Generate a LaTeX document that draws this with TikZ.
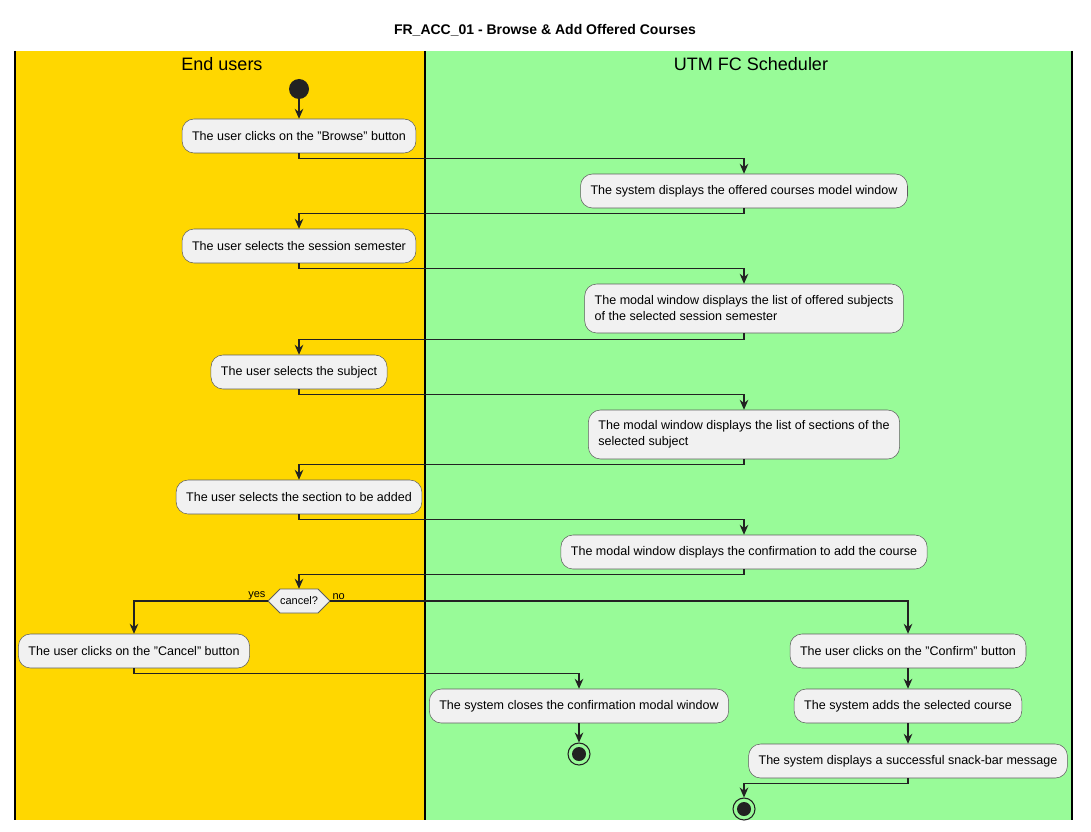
\documentclass[tikz,border=0pt]{standalone}
\usepackage{fontspec}
\setmainfont{Liberation Sans}
\usetikzlibrary{arrows.meta}
\definecolor{laneyellow}{HTML}{FFD700}
\definecolor{lanegreen}{HTML}{98FB98}
\definecolor{boxfill}{HTML}{F1F1F1}
\definecolor{boxline}{HTML}{5E5E5E}
\definecolor{dot}{HTML}{222222}
\tikzset{
  activity/.style={draw=boxline,fill=boxfill,rounded corners=9pt,minimum height=25.5pt,
    inner xsep=7.5pt,inner ysep=6pt,align=left,font=\fontsize{9.4}{12}\selectfont},
  tall/.style={minimum height=36.75pt},
  flow/.style={draw=dot,line width=0.8pt,-{Stealth[length=7.5pt,width=6.5pt,inset=2.5pt]}},
  lanename/.style={font=\fontsize{13.5}{16}\selectfont},
  branch/.style={font=\fontsize{8.25}{10}\selectfont,inner sep=1pt},
  endpoint/.style={circle,draw=dot,line width=0.8pt,minimum size=16.5pt,inner sep=0pt}
}
\begin{document}
\begin{tikzpicture}[x=0.75pt,y=-0.75pt]
\useasboundingbox (0,0) rectangle (1091,831);
\fill[laneyellow] (15,51) rectangle (425,820);
\fill[lanegreen] (425,51) rectangle (1072,820);
\draw[line width=1.1pt] (15,51) -- (15,820);
\draw[line width=1.1pt] (425,51) -- (425,820);
\draw[line width=1.1pt] (1072,51) -- (1072,820);
\node[font=\bfseries\fontsize{10.5}{12}\selectfont] (title) at (545,30) {FR\_ACC\_01 - Browse \& Add Offered Courses};
\node[lanename] (users) at (222,64) {End users};
\node[lanename] (system) at (751,64) {UTM FC Scheduler};

\node[circle,fill=dot,minimum size=15pt,inner sep=0pt] (start) at (299,89) {};
\node[activity] (a1) at (299,136) {The user clicks on the "Browse" button};
\node[activity] (a2) at (744,191) {The system displays the offered courses model window};
\node[activity] (a3) at (299,246) {The user selects the session semester};
\node[activity,tall] (a4) at (744,308.5) {The modal window displays the list of offered subjects\\of the selected session semester};
\node[activity] (a5) at (299,372) {The user selects the subject};
\node[activity,tall] (a6) at (744,434.5) {The modal window displays the list of sections of the\\selected subject};
\node[activity] (a7) at (299,497) {The user selects the section to be added};
\node[activity] (a8) at (744,552) {The modal window displays the confirmation to add the course};
\filldraw[draw=boxline,fill=boxfill,line width=0.6pt] (268,601) -- (280,589) -- (318,589) -- (330,601) -- (318,613) -- (280,613) -- cycle;
\node[minimum width=46.5pt,minimum height=18pt,inner sep=0pt,font=\fontsize{8.25}{10}\selectfont] (dec) at (299,601) {cancel?};
\node[branch,anchor=south east] (yes) at (267,601) {yes};
\node[branch,anchor=south west] (no) at (331,601) {no};
\node[activity] (a9) at (134,651) {The user clicks on the "Cancel" button};
\node[activity] (a10) at (579,706) {The system closes the confirmation modal window};
\node[endpoint] (stop1) at (579,754) {};
\fill[dot] (stop1) circle (7);
\node[activity] (a11) at (908,651) {The user clicks on the "Confirm" button};
\node[activity] (a12) at (908,706) {The system adds the selected course};
\node[activity] (a13) at (908,761) {The system displays a successful snack-bar message};
\node[endpoint] (stop2) at (744,809) {};
\fill[dot] (stop2) circle (7);

\draw[flow] (start) -- (a1);
\draw[flow] (a1.south) -- ++(0,5) -| (a2.north);
\draw[flow] (a2.south) -- ++(0,5) -| (a3.north);
\draw[flow] (a3.south) -- ++(0,5) -| (a4.north);
\draw[flow] (a4.south) -- ++(0,6) -| (a5.north);
\draw[flow] (a5.south) -- ++(0,5) -| (a6.north);
\draw[flow] (a6.south) -- ++(0,5) -| (a7.north);
\draw[flow] (a7.south) -- ++(0,5) -| (a8.north);
\draw[flow] (a8.south) -- ++(0,5) -| (dec.north);
\draw[flow] (dec.west) -| (a9.north);
\draw[flow] (dec.east) -| (a11.north);
\draw[flow] (a9.south) -- ++(0,5) -| (a10.north);
\draw[flow] (a10) -- (stop1);
\draw[flow] (a11) -- (a12);
\draw[flow] (a12) -- (a13);
\draw[flow] (a13.south) -- ++(0,5) -| (stop2.north);
\end{tikzpicture}
\end{document}
